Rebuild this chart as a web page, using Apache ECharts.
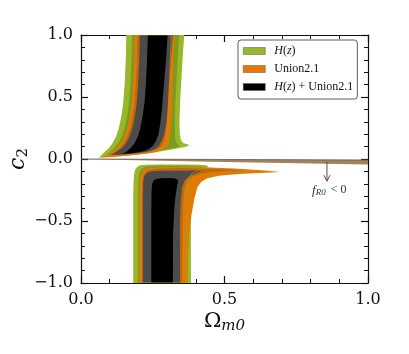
<!DOCTYPE html>
<html>
<head>
<meta charset="utf-8">
<script src="https://cdn.jsdelivr.net/npm/echarts@6/dist/echarts.min.js"></script>
<style>
  html, body { margin: 0; background: #fff; }
  #chart { width: 409px; height: 354px; }
</style>
</head>
<body>
<div id="chart"></div>
<script>
// contour outlines, points are [Omega_m0, c2]
// upper lobe (c2 > 0)
const hzOuterUp = [[0.158, 1], [0.156, 0.8], [0.152, 0.6], [0.147, 0.45], [0.141, 0.35], [0.132, 0.25], [0.122, 0.18], [0.108, 0.12], [0.094, 0.08], [0.08, 0.05], [0.068, 0.025], [0.062, 0.012], [0.10, 0.017], [0.16, 0.028], [0.22, 0.042], [0.28, 0.062], [0.33, 0.083], [0.365, 0.098], [0.378, 0.108], [0.37, 0.118], [0.355, 0.13], [0.347, 0.16], [0.344, 0.22], [0.343, 0.3], [0.345, 0.45], [0.35, 0.65], [0.355, 0.85], [0.36, 1]];
const hzInnerUp = [[0.178, 1], [0.176, 0.8], [0.172, 0.6], [0.167, 0.45], [0.161, 0.35], [0.152, 0.25], [0.142, 0.18], [0.128, 0.12], [0.113, 0.08], [0.098, 0.05], [0.088, 0.033], [0.13, 0.035], [0.19, 0.045], [0.25, 0.06], [0.3, 0.078], [0.335, 0.095], [0.345, 0.105], [0.335, 0.12], [0.329, 0.15], [0.327, 0.22], [0.327, 0.3], [0.329, 0.45], [0.333, 0.65], [0.338, 0.85], [0.342, 1]];
const unOuterUp = [[0.187, 1], [0.185, 0.8], [0.181, 0.6], [0.176, 0.45], [0.17, 0.35], [0.161, 0.25], [0.151, 0.18], [0.137, 0.12], [0.121, 0.08], [0.104, 0.05], [0.088, 0.028], [0.07, 0.013], [0.11, 0.016], [0.17, 0.028], [0.22, 0.04], [0.26, 0.055], [0.285, 0.075], [0.3, 0.1], [0.308, 0.15], [0.312, 0.22], [0.314, 0.3], [0.317, 0.45], [0.32, 0.65], [0.323, 0.85], [0.326, 1]];
const unInnerUp = [[0.195, 1], [0.193, 0.8], [0.189, 0.6], [0.184, 0.45], [0.178, 0.35], [0.169, 0.25], [0.159, 0.18], [0.145, 0.12], [0.129, 0.08], [0.112, 0.05], [0.095, 0.028], [0.14, 0.03], [0.19, 0.04], [0.235, 0.055], [0.265, 0.075], [0.283, 0.1], [0.293, 0.15], [0.298, 0.22], [0.301, 0.3], [0.305, 0.45], [0.309, 0.65], [0.312, 0.85], [0.315, 1]];
const bothOuterUp = [[0.205, 1], [0.203, 0.8], [0.199, 0.6], [0.194, 0.45], [0.188, 0.35], [0.179, 0.25], [0.169, 0.18], [0.155, 0.12], [0.138, 0.08], [0.12, 0.052], [0.102, 0.034], [0.14, 0.035], [0.19, 0.044], [0.23, 0.056], [0.255, 0.075], [0.27, 0.1], [0.28, 0.14], [0.29, 0.2], [0.297, 0.28], [0.302, 0.4], [0.307, 0.6], [0.313, 0.8], [0.32, 1]];
const bothInnerUp = [[0.233, 1], [0.23, 0.8], [0.226, 0.6], [0.221, 0.45], [0.215, 0.35], [0.207, 0.25], [0.198, 0.18], [0.185, 0.12], [0.17, 0.08], [0.155, 0.055], [0.142, 0.043], [0.165, 0.044], [0.195, 0.052], [0.22, 0.065], [0.24, 0.085], [0.252, 0.11], [0.262, 0.15], [0.27, 0.2], [0.276, 0.28], [0.282, 0.4], [0.289, 0.6], [0.296, 0.8], [0.302, 1]];

// lower lobe (c2 < 0)
const hzOuterLow = [[0.182, -1], [0.182, -0.6], [0.182, -0.3], [0.183, -0.18], [0.185, -0.12], [0.189, -0.085], [0.196, -0.063], [0.207, -0.051], [0.225, -0.046], [0.28, -0.044], [0.36, -0.044], [0.41, -0.046], [0.435, -0.05], [0.445, -0.058], [0.44, -0.068], [0.42, -0.085], [0.402, -0.105], [0.39, -0.135], [0.385, -0.18], [0.383, -0.3], [0.383, -0.6], [0.383, -1]];
const hzInnerLow = [[0.198, -1], [0.198, -0.3], [0.199, -0.18], [0.202, -0.12], [0.208, -0.088], [0.218, -0.068], [0.235, -0.058], [0.28, -0.055], [0.36, -0.055], [0.41, -0.058], [0.428, -0.064], [0.42, -0.078], [0.4, -0.098], [0.383, -0.125], [0.373, -0.17], [0.369, -0.3], [0.369, -1]];
const unOuterLow = [[0.203, -1], [0.203, -0.3], [0.204, -0.19], [0.207, -0.13], [0.213, -0.1], [0.225, -0.08], [0.245, -0.07], [0.28, -0.066], [0.35, -0.064], [0.45, -0.069], [0.55, -0.079], [0.64, -0.092], [0.695, -0.105], [0.64, -0.11], [0.55, -0.12], [0.48, -0.135], [0.44, -0.155], [0.418, -0.185], [0.405, -0.23], [0.395, -0.32], [0.385, -0.45], [0.377, -0.6], [0.373, -0.8], [0.372, -1]];
const unInnerLow = [[0.212, -1], [0.212, -0.3], [0.213, -0.19], [0.216, -0.135], [0.223, -0.105], [0.235, -0.087], [0.255, -0.077], [0.29, -0.073], [0.36, -0.07], [0.45, -0.075], [0.53, -0.083], [0.6, -0.093], [0.54, -0.098], [0.47, -0.107], [0.42, -0.122], [0.39, -0.145], [0.372, -0.18], [0.363, -0.24], [0.358, -0.35], [0.356, -0.5], [0.355, -1]];
const bothOuterLow = [[0.215, -1], [0.215, -0.3], [0.216, -0.2], [0.219, -0.145], [0.226, -0.118], [0.238, -0.103], [0.258, -0.097], [0.3, -0.095], [0.36, -0.094], [0.42, -0.09], [0.405, -0.11], [0.38, -0.135], [0.362, -0.17], [0.352, -0.23], [0.347, -0.35], [0.345, -0.5], [0.345, -1]];
const bothInnerLow = [[0.245, -1], [0.245, -0.4], [0.246, -0.25], [0.248, -0.2], [0.253, -0.174], [0.262, -0.161], [0.278, -0.155], [0.31, -0.154], [0.328, -0.158], [0.337, -0.168], [0.338, -0.185], [0.334, -0.23], [0.329, -0.3], [0.325, -0.4], [0.321, -0.6], [0.32, -1]];

// f_R0 < 0 sliver and its annotation
const fR0Wedge = [[0, 0], [0.5, -0.004], [1, -0.008], [1, -0.045], [0.5, -0.025], [0.02, -0.002]];
const fR0Arrow = [[0.857, -0.024], [0.857, -0.179]];
const fR0Label = [[0.865, -0.252]];

const legendNames = ['H(z)', 'Union2.1', 'H(z) + Union2.1'];

const SERIF = 'DejaVu Serif';
const LSERIF = 'Liberation Serif';
const GREEN = '#98b82a', GREEN_DK = '#7b9b1f';
const ORANGE = '#e07b00', ORANGE_DK = '#c5660b';
const GRAY = '#4b4b4b', BLACK = '#000';

function area (name, pts, fill, stroke) {
  return {
    type: 'custom',
    name: name,
    data: pts,
    encode: { x: 0, y: 1 },
    clip: true,
    silent: true,
    animation: false,
    renderItem: function (params, api) {
      if (params.dataIndex !== 0) return null
      const points = pts.map(p => api.coord(p))
      return {
        type: 'polygon',
        shape: { points: points },
        style: stroke
          ? { fill: 'none', stroke: stroke, lineWidth: 0.6 }
          : { fill: fill }
      }
    }
  }
}

const fmt = v => v.toFixed(1).replace('-', '\u2212')

const xBase = {
  type: 'value', min: 0, max: 1, interval: 0.5,
  axisLine: { onZero: false, lineStyle: { color: '#111', width: 1.2 } },
  axisTick: { inside: true, length: 7, lineStyle: { color: '#111', width: 1.2 } },
  minorTick: { show: true, splitNumber: 5, length: 4, lineStyle: { color: '#111', width: 1 } },
  splitLine: { show: false }
}
const yBase = Object.assign({}, xBase, { min: -1, max: 1 })

const chart = echarts.init(document.getElementById('chart'))

chart.setOption({
  backgroundColor: '#fff',
  animation: false,
  grid: { left: 81, top: 35, right: 41, bottom: 71, containLabel: false, outerBoundsMode: 'none' },
  xAxis: [
    Object.assign({}, xBase, {
      position: 'bottom',
      axisLabel: { fontFamily: SERIF, fontSize: 16, color: '#111', margin: 9, formatter: fmt },
      name: '{a|\u03A9}{b|m0}',
      nameLocation: 'middle',
      nameGap: 27,
      nameMoveOverlap: false,
      nameTextStyle: {
        rich: {
          a: { fontFamily: SERIF, fontSize: 21, color: '#111' },
          b: { fontFamily: SERIF, fontStyle: 'italic', fontSize: 15, color: '#111', padding: [9, 0, 0, 0] }
        }
      }
    }),
    Object.assign({}, xBase, { position: 'top', axisLabel: { show: false } })
  ],
  yAxis: [
    Object.assign({}, yBase, {
      position: 'left',
      axisLabel: { fontFamily: SERIF, fontSize: 16, color: '#111', margin: 8, formatter: fmt },
      name: '{a|c}{b|2}',
      nameLocation: 'middle',
      nameRotate: 90,
      nameGap: 50,
      nameMoveOverlap: false,
      nameTextStyle: {
        rich: {
          a: { fontFamily: SERIF, fontStyle: 'italic', fontSize: 22, color: '#111' },
          b: { fontFamily: SERIF, fontSize: 15, color: '#111', padding: [10, 0, 0, 0] }
        }
      }
    }),
    Object.assign({}, yBase, { position: 'right', axisLabel: { show: false } })
  ],
  legend: {
    orient: 'vertical',
    left: 238,
    top: 40,
    padding: [4, 4, 5, 5],
    itemGap: 4,
    itemWidth: 22,
    itemHeight: 7,
    selectedMode: false,
    backgroundColor: '#fff',
    borderColor: '#333',
    borderWidth: 0.8,
    borderRadius: 3,
    data: [
      { name: legendNames[0], icon: 'rect', itemStyle: { color: GREEN, borderColor: '#555', borderWidth: 0.5 } },
      { name: legendNames[1], icon: 'rect', itemStyle: { color: ORANGE, borderColor: '#555', borderWidth: 0.5 } },
      { name: legendNames[2], icon: 'rect', itemStyle: { color: BLACK, borderColor: '#555', borderWidth: 0.5 } }
    ],
    formatter: function (n) {
      return n.replace(/H\(z\)/, '{i|H}({i|z})')
    },
    textStyle: {
      fontFamily: LSERIF, fontSize: 12, lineHeight: 14, color: '#111', padding: [0, 0, 0, 4],
      rich: { i: { fontFamily: LSERIF, fontStyle: 'italic', fontSize: 12, lineHeight: 14, color: '#111' } }
    }
  },
  series: [
    area(legendNames[0], hzOuterUp, GREEN),
    area(legendNames[0], hzOuterLow, GREEN),
    area(legendNames[0], hzInnerUp, GREEN_DK),
    area(legendNames[0], hzInnerLow, GREEN_DK),
    area(legendNames[1], unOuterUp, ORANGE),
    area(legendNames[1], unOuterLow, ORANGE),
    area(legendNames[1], unInnerUp, ORANGE_DK),
    area(legendNames[1], unInnerLow, ORANGE_DK),
    area(legendNames[2], bothOuterUp, GRAY),
    area(legendNames[2], bothOuterLow, GRAY),
    area(legendNames[2], bothInnerUp, BLACK),
    area(legendNames[2], bothInnerLow, BLACK),
    // thin contour edges that show through the combined region
    area(legendNames[1], unInnerLow, null, '#d98a2e'),
    area(legendNames[0], hzInnerLow, null, '#8fae2a'),
    area(legendNames[1], unInnerUp, null, '#d98a2e'),
    {
      type: 'custom',
      name: 'fR0',
      data: fR0Wedge,
      encode: { x: 0, y: 1 },
      clip: true,
      silent: true,
      renderItem: function (params, api) {
        if (params.dataIndex !== 0) return null
        const pts = fR0Wedge.map(p => api.coord(p))
        return {
          type: 'group',
          children: [
            { type: 'polygon', shape: { points: pts }, style: { fill: '#a3835d' } },
            { type: 'polyline', shape: { points: pts.slice(0, 3) }, style: { stroke: '#6b5238', lineWidth: 0.8, fill: 'none' } }
          ]
        }
      }
    },
    {
      type: 'custom',
      name: 'fR0 arrow',
      data: fR0Arrow,
      encode: { x: 0, y: 1 },
      silent: true,
      renderItem: function (params, api) {
        if (params.dataIndex !== 0) return null
        const a = api.coord(fR0Arrow[0])
        const b = api.coord(fR0Arrow[1])
        const t = api.coord(fR0Label[0])
        return {
          type: 'group',
          children: [
            { type: 'line', shape: { x1: a[0], y1: a[1], x2: b[0], y2: b[1] }, style: { stroke: '#6b4a2f', lineWidth: 1 } },
            { type: 'polyline', shape: { points: [[b[0] - 3, b[1] - 6], [b[0], b[1]], [b[0] + 3, b[1] - 6]] }, style: { stroke: '#6b4a2f', lineWidth: 1, fill: 'none' } },
            {
              type: 'text',
              x: t[0], y: t[1],
              style: {
                text: '{i|f}{s|R0} < 0',
                fill: '#333',
                align: 'center',
                verticalAlign: 'middle',
                font: '12px "Liberation Serif"',
                rich: {
                  i: { fontFamily: LSERIF, fontStyle: 'italic', fontSize: 13, fill: '#333' },
                  s: { fontFamily: LSERIF, fontStyle: 'italic', fontSize: 9, fill: '#333', padding: [5, 2, 0, 0] }
                }
              }
            }
          ]
        }
      }
    }
  ]
})
</script>
</body>
</html>
